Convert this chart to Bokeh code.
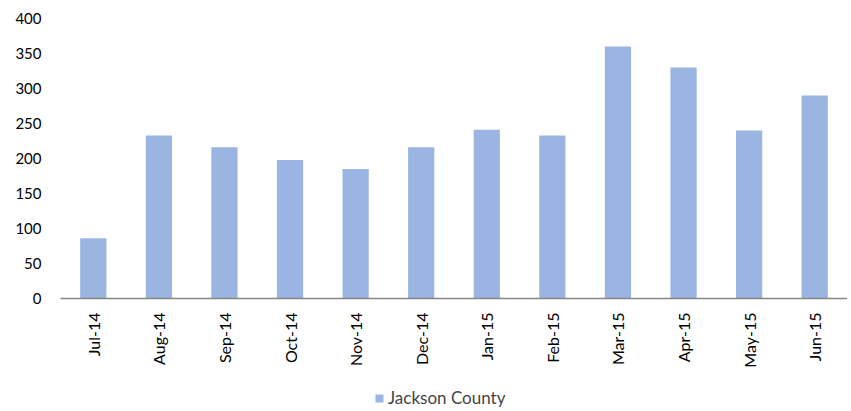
from bokeh.plotting import figure
from bokeh.layouts import column
from bokeh.models import FactorRange, Range1d, Legend, LegendItem, SingleIntervalTicker
from bokeh.embed import file_html
from bokeh.resources import INLINE
import math

months = ["Jul-14", "Aug-14", "Sep-14", "Oct-14", "Nov-14", "Dec-14",
          "Jan-15", "Feb-15", "Mar-15", "Apr-15", "May-15", "Jun-15"]
values = [86, 233, 216, 198, 185, 216, 241, 233, 360, 330, 240, 290]
series_name = "Jackson County"

FONT = "Lato"
BAR = "#9BB5E2"

xr = FactorRange(*months, range_padding=0)
yr = Range1d(0, 400)

p = figure(x_range=xr, y_range=yr, width=847, height=385,
           output_backend="svg", toolbar_location=None,
           min_border_left=60, min_border_right=0, min_border_top=18, min_border_bottom=87)
p.outline_line_color = None
p.xgrid.grid_line_color = None
p.ygrid.grid_line_color = None

r = p.vbar(x=months, top=values, width=0.4, fill_color=BAR, line_color=None)

p.yaxis.ticker = SingleIntervalTicker(interval=50)
p.yaxis.axis_line_color = None
p.yaxis.major_tick_line_color = None
p.yaxis.minor_tick_line_color = None
p.yaxis.major_label_standoff = 13
p.yaxis.major_label_text_font = FONT
p.yaxis.major_label_text_font_size = "15px"
p.yaxis.major_label_text_color = "#000000"

p.xaxis.axis_line_color = "#868686"
p.xaxis.axis_line_width = 1.5
p.xaxis.major_tick_line_color = None
p.xaxis.minor_tick_line_color = None
p.xaxis.major_label_orientation = math.pi / 2
p.xaxis.major_label_standoff = 8
p.xaxis.major_label_text_font = FONT
p.xaxis.major_label_text_font_size = "16px"
p.xaxis.major_label_text_color = "#000000"

# legend strip underneath
pl = figure(x_range=xr, y_range=yr, width=847, height=26,
            output_backend="svg", toolbar_location=None,
            x_axis_type=None, y_axis_type=None, min_border=0)
pl.outline_line_color = None
pl.xgrid.grid_line_color = None
pl.ygrid.grid_line_color = None
rl = pl.vbar(x=months, top=values, width=0.4, fill_color=BAR, line_color=None, visible=False)

legend = Legend(items=[LegendItem(label=series_name, renderers=[rl])],
                orientation="horizontal", location=(314, 3),
                border_line_color=None, background_fill_alpha=0,
                inactive_fill_alpha=0,
                label_text_font=FONT, label_text_font_size="17px",
                glyph_width=10, glyph_height=10, label_standoff=4,
                padding=0, margin=0, spacing=0)
pl.add_layout(legend, "center")

layout = column(p, pl, spacing=0)
open("out.html", "w").write(file_html(layout, INLINE))
